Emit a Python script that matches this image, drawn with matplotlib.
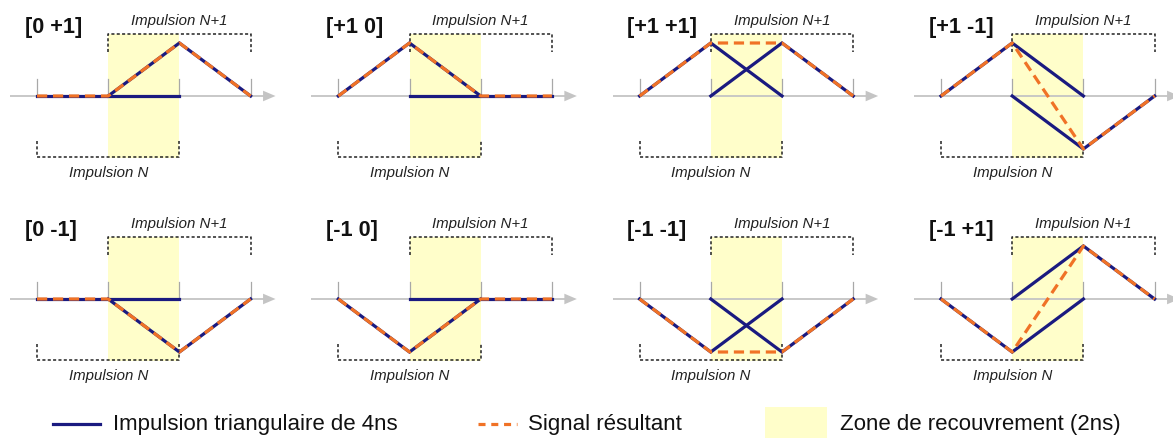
import matplotlib
matplotlib.use("Agg")
import matplotlib.pyplot as plt
from matplotlib.patches import Rectangle, Polygon
from matplotlib.lines import Line2D
import numpy as np

# ---- data ----
panel_labels = ["[0 +1]", "[+1 0]", "[+1 +1]", "[+1 -1]",
                "[0 -1]", "[-1 0]", "[-1 -1]", "[-1 +1]"]
amp_n = [0, 1, 1, 1, 0, -1, -1, -1]        # amplitude of pulse N
amp_n1 = [1, 0, 1, -1, -1, 0, -1, 1]       # amplitude of pulse N+1
t_n = [0, 2, 4]                            # pulse N time nodes (ns)
t_n1 = [2, 4, 6]                           # pulse N+1 time nodes (ns)
tri_shape = [0, 1, 0]                      # triangular pulse shape
t_grid = [0, 2, 4, 6]                      # time ticks (ns)
overlap = (2, 4)                           # overlap zone (ns)
legend_labels = ["Impulsion triangulaire de 4ns", "Signal résultant",
                 "Zone de recouvrement (2ns)"]

BLUE = "#1a1a80"
ORANGE = "#f07226"
YELLOW = "#fffeca"
GRAY = "#c4c4c4"
TICKGRAY = "#a8a8a8"

W, H = 1173, 439
fig = plt.figure(figsize=(W / 100, H / 100), dpi=100)
plt.rcParams['font.family'] = ['Liberation Sans', 'DejaVu Sans']

sx = 35.6   # px per ns
sy = 53.0   # px per amplitude unit
x_origins = [37, 338.3, 639.6, 941]
y_origins = [97, 300]
xl = (-1.0, 7.5)
yl = (-1.9, 1.85)

for i, lab in enumerate(panel_labels):
    r, c = divmod(i, 4)
    x0, y0 = x_origins[c], y_origins[r]
    left = (x0 + xl[0] * sx) / W
    width = (xl[1] - xl[0]) * sx / W
    bottom = (H - (y0 - yl[0] * sy)) / H
    height = (yl[1] - yl[0]) * sy / H
    ax = fig.add_axes([left, bottom, width, height])
    ax.set_xlim(*xl)
    ax.set_ylim(*yl)
    ax.axis("off")

    # overlap zone
    ax.add_patch(Rectangle((overlap[0], -1.17), overlap[1] - overlap[0], 2.34,
                           facecolor=YELLOW, edgecolor="none", zorder=0))
    # axis with arrow
    ax.plot([-0.76, 6.4], [0, 0], color=GRAY, lw=1.3, zorder=1,
            solid_capstyle="butt")
    ax.add_patch(Polygon([[6.35, 0.1], [6.35, -0.1], [6.7, 0]], closed=True,
                         facecolor=GRAY, edgecolor="none", zorder=1))
    # ticks
    for t in t_grid:
        ax.plot([t, t], [0, 0.32], color=TICKGRAY, lw=0.9, zorder=1)

    # brackets
    ax.plot([t_n1[0], t_n1[0], t_n1[-1], t_n1[-1]], [0.83, 1.17, 1.17, 0.83],
            color="#222222", lw=1.1, ls=(0, (2, 1.5)), zorder=2)
    ax.plot([t_n[0], t_n[0], t_n[-1], t_n[-1]], [-0.85, -1.15, -1.15, -0.85],
            color="#222222", lw=1.1, ls=(0, (2, 1.5)), zorder=2)
    ax.text(t_n1[1], 1.43, "Impulsion N+1", style="italic", fontsize=10.8,
            ha="center", va="center", color="#222222")
    ax.text(t_n[1], -1.43, "Impulsion N", style="italic", fontsize=10.8,
            ha="center", va="center", color="#222222")
    ax.text(-0.34, 1.31, lab, fontsize=15.6, fontweight="bold", ha="left",
            va="center", color="#111111")

    # pulses
    yn = [amp_n[i] * s for s in tri_shape]
    yn1 = [amp_n1[i] * s for s in tri_shape]
    ax.plot(t_n, yn, color=BLUE, lw=2.3, zorder=3, solid_joinstyle="miter")
    ax.plot(t_n1, yn1, color=BLUE, lw=2.3, zorder=3, solid_joinstyle="miter")
    # resulting signal
    res = np.interp(t_grid, t_n, yn, left=0, right=0) + \
        np.interp(t_grid, t_n1, yn1, left=0, right=0)
    ax.plot(t_grid, res, color=ORANGE, lw=2.3, zorder=4,
            ls=(0, (3.2, 1.8)), dash_capstyle="butt")

# ---- legend ----
lax = fig.add_axes([0, 0, 1, 40 / H])
lax.set_xlim(0, W)
lax.set_ylim(0, 40)
lax.axis("off")
ly = 14
lax.add_line(Line2D([53, 100], [ly, ly], color=BLUE, lw=2.3))
lax.text(113, ly, legend_labels[0], fontsize=16, va="center", ha="left",
         color="#111111")
lax.add_line(Line2D([478, 517], [ly, ly], color=ORANGE, lw=2.3,
                    ls=(0, (2.2, 1.8))))
lax.text(528, ly, legend_labels[1], fontsize=16, va="center", ha="left",
         color="#111111")
lax.add_patch(Rectangle((765, 0), 62, 31, facecolor=YELLOW, edgecolor="none"))
lax.text(840, ly, legend_labels[2], fontsize=16, va="center", ha="left",
         color="#111111")

fig.savefig("out.png", dpi=100)
